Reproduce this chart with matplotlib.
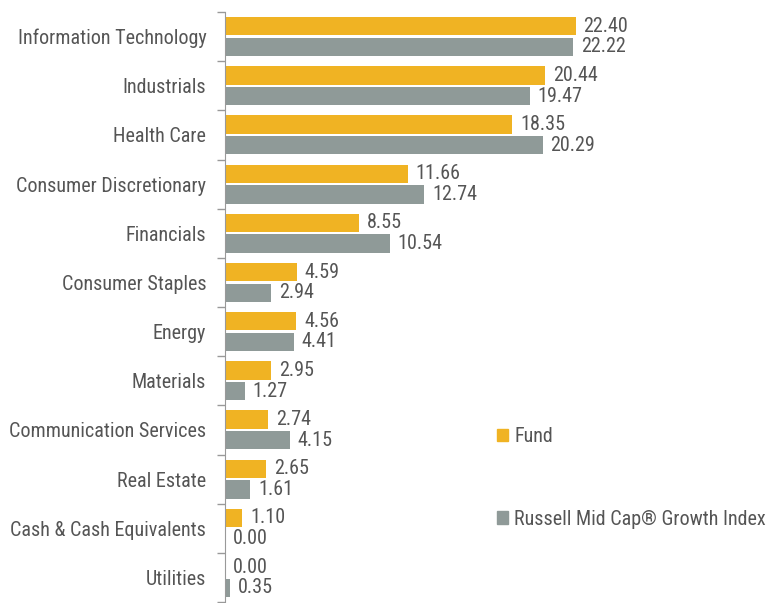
import matplotlib
matplotlib.use("Agg")
import matplotlib.pyplot as plt
import numpy as np
from matplotlib.patches import Patch
from matplotlib import font_manager

sectors = [
    "Information Technology", "Industrials", "Health Care",
    "Consumer Discretionary", "Financials", "Consumer Staples", "Energy",
    "Materials", "Communication Services", "Real Estate",
    "Cash & Cash Equivalents", "Utilities",
]
fund = [22.40, 20.44, 18.35, 11.66, 8.55, 4.59, 4.56, 2.95, 2.74, 2.65, 1.10, 0.00]
index = [22.22, 19.47, 20.29, 12.74, 10.54, 2.94, 4.41, 1.27, 4.15, 1.61, 0.00, 0.35]
series_names = ["Fund", "Russell Mid Cap\u00ae Growth Index"]

FUND_COLOR = "#F0B323"
INDEX_COLOR = "#8F9A98"
TEXT_COLOR = "#555555"
FS = 14.5

installed = {f.name for f in font_manager.fontManager.ttflist}
families = [f for f in ["Roboto Condensed", "Liberation Sans Narrow", "Roboto"] if f in installed]
plt.rcParams["font.family"] = families + ["DejaVu Sans"]

W, H = 773, 603
fig = plt.figure(figsize=(W / 100, H / 100), dpi=100)
ax = fig.add_axes([225 / W, 1 / H, (W - 225) / W, (H - 13) / H])

n = len(sectors)
y = np.arange(n)
off = 0.21
h = 0.375
ax.barh(y - off, fund, height=h, color=FUND_COLOR)
ax.barh(y + off, index, height=h, color=INDEX_COLOR)

for yi, v in zip(y, fund):
    ax.text(v + 0.5, yi - off, f"{v:.2f}", va="center", ha="left",
            fontsize=FS, color=TEXT_COLOR)
for yi, v in zip(y, index):
    ax.text(v + 0.5, yi + off, f"{v:.2f}", va="center", ha="left",
            fontsize=FS, color=TEXT_COLOR)

ax.set_xlim(0, 35)
ax.set_ylim(n - 0.5, -0.5)
ax.set_yticks(y)
ax.set_yticklabels(sectors, fontsize=FS, color=TEXT_COLOR)
ax.tick_params(axis="y", length=0, pad=13.5)
ax.set_yticks(np.arange(-0.5, n, 1), minor=True)
ax.tick_params(axis="y", which="minor", length=6, color="#999999", width=1)
ax.set_xticks([])
for s in ["top", "right", "bottom"]:
    ax.spines[s].set_visible(False)
ax.spines["left"].set_color("#999999")

handles = [Patch(color=FUND_COLOR), Patch(color=INDEX_COLOR)]
fig.legend(handles, series_names, loc="upper left",
           bbox_to_anchor=(479 / W, 1 - 409 / H), frameon=False,
           fontsize=FS, labelcolor=TEXT_COLOR, handlelength=0.55,
           handleheight=0.55, handletextpad=0.3, labelspacing=3.15)

fig.savefig("out.png", dpi=100)
